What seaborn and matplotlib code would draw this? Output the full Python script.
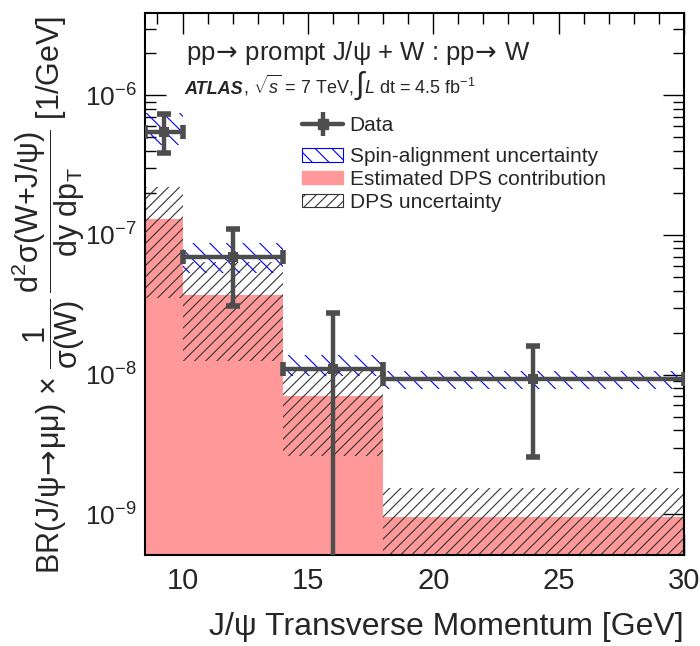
import matplotlib
matplotlib.use("Agg")
import matplotlib.pyplot as plt
import matplotlib.patches as mpatches
from matplotlib.lines import Line2D
from matplotlib.legend_handler import HandlerTuple
from matplotlib.offsetbox import TextArea, HPacker, AnchoredOffsetbox
from matplotlib.ticker import LogLocator, MultipleLocator, NullFormatter, FixedLocator
import numpy as np
import pandas as pd
import seaborn as sns

# bins in J/psi pT [GeV]
bin_edges = [8.5, 10, 14, 18, 30]
pt_centers = [9.25, 12, 16, 24]

# measured ratio and total error band
data_vals = [5.47e-7, 6.93e-8, 1.10e-8, 9.3e-9]
data_err_up = [7.31e-7, 1.10e-7, 2.76e-8, 1.61e-8]
data_err_lo = [3.85e-7, 3.08e-8, 4.0e-10, 2.55e-9]

# spin-alignment envelope
spin_hi = [7.48e-7, 8.73e-8, 1.39e-8, 1.06e-8]
spin_lo = [4.40e-7, 5.33e-8, 9.72e-9, 7.82e-9]

# DPS estimate and its uncertainty
dps_vals = [1.30e-7, 3.73e-8, 7.0e-9, 9.5e-10]
dps_hi = [2.21e-7, 6.41e-8, 1.06e-8, 1.53e-9]
dps_lo = [3.55e-8, 1.24e-8, 2.6e-9, 3.0e-10]

sns.set_theme(style="ticks")
plt.rcParams['font.family'] = ['Liberation Sans', 'DejaVu Sans']
plt.rcParams['mathtext.fontset'] = 'custom'
plt.rcParams['mathtext.rm'] = 'Liberation Sans'
plt.rcParams['mathtext.it'] = 'Liberation Sans:italic'
plt.rcParams['mathtext.bf'] = 'Liberation Sans:bold'
plt.rcParams['mathtext.sf'] = 'DejaVu Sans'
plt.rcParams['hatch.linewidth'] = 0.8

df = pd.DataFrame({
    'pt': pt_centers,
    'left': bin_edges[:-1],
    'width': np.diff(bin_edges),
    'val': data_vals,
    'up': data_err_up,
    'lo': data_err_lo,
    'spin_hi': spin_hi,
    'spin_lo': spin_lo,
    'dps': dps_vals,
    'dps_hi': dps_hi,
    'dps_lo': dps_lo,
})

pink = '#ff9999'
grey = '#4d4d4d'
floor = 1e-12
arrow = r'$\!\mathsf{\rightarrow}\!$'

fig = plt.figure(figsize=(7, 6.46), dpi=100)
ax = fig.add_axes([0.207, 0.141, 0.770, 0.839])
ax.set_yscale('log')

ax.bar(df['left'], df['dps'] - floor, bottom=floor, width=df['width'], align='edge',
       color=pink, linewidth=0, zorder=1)
ax.bar(df['left'], df['dps_hi'] - df['dps_lo'], bottom=df['dps_lo'], width=df['width'],
       align='edge', fill=False, hatch='///', edgecolor='#333333', linewidth=0, zorder=2)
ax.bar(df['left'], df['spin_hi'] - df['spin_lo'], bottom=df['spin_lo'], width=df['width'],
       align='edge', fill=False, hatch='\\\\', edgecolor='#0000ee', linewidth=0, zorder=3)

yerr = [df['val'] - df['lo'], df['up'] - df['val']]
xerr = df['width'] / 2
ax.errorbar(df['pt'], df['val'], xerr=xerr, yerr=yerr, fmt='none', ecolor=grey,
            elinewidth=3.2, capsize=5, capthick=4, zorder=5)
sns.scatterplot(data=df, x='pt', y='val', marker='s', s=60, color=grey, linewidth=0,
                ax=ax, zorder=6, legend=False)

ax.set_xlim(8.5, 30)
ax.set_ylim(5.1e-10, 3.9e-6)

ax.xaxis.set_major_locator(MultipleLocator(5))
ax.xaxis.set_minor_locator(MultipleLocator(1))
ax.yaxis.set_major_locator(FixedLocator([1e-9, 1e-8, 1e-7, 1e-6]))
ax.yaxis.set_minor_locator(LogLocator(base=10, subs=np.arange(2, 10)))
ax.yaxis.set_minor_formatter(NullFormatter())
ax.set_yticklabels([r'$10^{-9}$', r'$10^{-8}$', r'$10^{-7}$', r'$10^{-6}$'])
ax.tick_params(which='both', direction='in', top=True, right=True, color='black', width=1)
ax.tick_params(which='major', length=15, labelsize=21, pad=9)
ax.tick_params(axis='y', which='major', labelsize=19, pad=6)
ax.tick_params(which='minor', length=8)
for s in ax.spines.values():
    s.set_linewidth(1.5)
    s.set_color('black')

ax.set_xlabel('J/ψ Transverse Momentum [GeV]', fontsize=23, loc='right', labelpad=12)
ax.set_ylabel('BR(J/ψ' + arrow + r'μμ) × $\dfrac{1}{\mathrm{\sigma(W)}}\,'
              r'\dfrac{\mathrm{d^2\sigma(W{+}J/\psi)}}{\mathrm{dy\ dp_T}}$ [1/GeV]',
              fontsize=22)
ax.yaxis.set_label_coords(-0.108, 0.48)

ax.text(0.076, 0.913, 'pp' + arrow + ' prompt J/ψ + W : pp' + arrow + ' W',
        transform=ax.transAxes, fontsize=18.5, va='baseline')

small = 13
pieces = [
    TextArea('ATLAS', textprops=dict(fontsize=small, fontweight='bold', fontstyle='italic')),
    TextArea(r', $\sqrt{s}$ = 7 TeV, ', textprops=dict(fontsize=small)),
    TextArea('∫', textprops=dict(fontsize=22)),
    TextArea(r'$\mathit{L}$ dt = 4.5 fb$^{-1}$', textprops=dict(fontsize=small)),
]
box = HPacker(children=pieces, align='baseline', pad=0, sep=0)
ax.add_artist(AnchoredOffsetbox(loc='lower left', child=box, pad=0, borderpad=0,
                                frameon=False, bbox_to_anchor=(0.074, 0.838),
                                bbox_transform=ax.transAxes))

data_handle = (Line2D([], [], color=grey, lw=3.2, marker='s', ms=7),
               Line2D([], [], color=grey, ls='none', marker='|', ms=17, mew=3.2))
leg1 = ax.legend([data_handle], ['Data'], loc='upper left', bbox_to_anchor=(0.291, 0.809),
                 frameon=False, fontsize=15, handlelength=2.0, handletextpad=0.3,
                 borderpad=0, borderaxespad=0,
                 handler_map={tuple: HandlerTuple(ndivide=1)})
ax.add_artist(leg1)

handles = [
    mpatches.Patch(facecolor='white', hatch='\\\\', edgecolor='#0000ee', linewidth=0.8),
    mpatches.Patch(facecolor=pink, edgecolor=pink),
    mpatches.Patch(facecolor='white', hatch='///', edgecolor='#333333', linewidth=0.8),
]
labels = ['Spin-alignment uncertainty', 'Estimated DPS contribution', 'DPS uncertainty']
ax.legend(handles, labels, loc='upper left', bbox_to_anchor=(0.291, 0.752), frameon=False,
          fontsize=15, handlelength=2.0, handleheight=0.6, handletextpad=0.3,
          labelspacing=0.18, borderpad=0, borderaxespad=0)

fig.savefig('out.png', dpi=100)
